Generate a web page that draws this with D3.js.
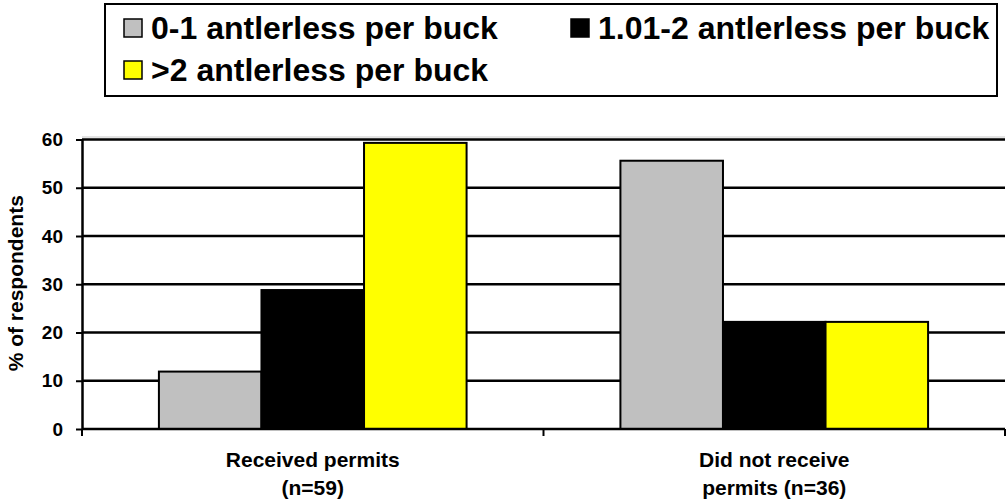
<!DOCTYPE html>
<html>
<head>
<meta charset="utf-8">
<script src="https://cdn.jsdelivr.net/npm/d3@7"></script>
<style>
  html, body { margin: 0; padding: 0; background: #fff; }
  svg { display: block; font-family: "Liberation Sans", Arial, sans-serif; font-weight: bold; }
</style>
</head>
<body>
<svg id="chart" width="1007" height="503"></svg>
<script>
// Survey groups (two-line category labels)
const categories = ["Received permits", "Did not receive permits"];
const categoryLines = [["Received permits", "(n=59)"], ["Did not receive", "permits (n=36)"]];

// Antlerless-per-buck classes
const seriesNames = ["0-1 antlerless per buck", "1.01-2 antlerless per buck", ">2 antlerless per buck"];
const seriesColors = ["#C0C0C0", "#000000", "#FFFF00"];

// % of respondents, one array per class, ordered like categories
const series01 = [11.9, 55.6];
const series101to2 = [28.8, 22.2];
const seriesOver2 = [59.3, 22.2];

const yTicks = [0, 10, 20, 30, 40, 50, 60];

const FONT = "'Liberation Sans', Arial, sans-serif";
const svg = d3.select("#chart");

const plot = { left: 82, right: 1005, top: 139.5, bottom: 429 };

const y = d3.scaleLinear().domain([0, 60]).range([plot.bottom, plot.top]);
const x0 = d3.scaleBand().domain(categories).range([plot.left, plot.right]).padding(0);
const x1 = d3.scaleBand().domain(seriesNames).range([0, x0.bandwidth()])
  .paddingInner(0).paddingOuter(0.75);

const rows = categories.map((c, i) => ({
  category: c,
  values: [series01[i], series101to2[i], seriesOver2[i]]
}));

// Faint plot-area edge just above the top gridline
svg.append("line")
  .attr("x1", plot.left).attr("x2", plot.right)
  .attr("y1", plot.top - 2.5).attr("y2", plot.top - 2.5)
  .attr("stroke", "#c8c8c8").attr("stroke-width", 1);

// Horizontal gridlines
svg.append("g")
  .selectAll("line")
  .data(yTicks.filter(t => t > 0))
  .join("line")
  .attr("x1", plot.left).attr("x2", plot.right)
  .attr("y1", d => y(d)).attr("y2", d => y(d))
  .attr("stroke", "#000").attr("stroke-width", 2.5);

// Bars
svg.append("g")
  .selectAll("g")
  .data(rows)
  .join("g")
  .attr("transform", d => `translate(${x0(d.category)},0)`)
  .selectAll("rect")
  .data(d => d.values.map((v, j) => ({ name: seriesNames[j], value: v, color: seriesColors[j] })))
  .join("rect")
  .attr("x", d => x1(d.name))
  .attr("width", x1.bandwidth())
  .attr("y", d => y(d.value))
  .attr("height", d => y(0) - y(d.value))
  .attr("fill", d => d.color)
  .attr("stroke", "#000")
  .attr("stroke-width", 2);

// Y axis
const yAxis = svg.append("g")
  .attr("transform", `translate(${plot.left},0)`)
  .call(d3.axisLeft(y).tickValues(yTicks).tickSize(6).tickPadding(13).tickSizeOuter(0));
yAxis.select(".domain").attr("stroke", "#000").attr("stroke-width", 2.5);
yAxis.selectAll(".tick line").attr("stroke", "#000").attr("stroke-width", 2);
yAxis.selectAll(".tick text")
  .attr("font-size", 19).attr("font-weight", "bold")
  .attr("font-family", FONT).attr("fill", "#000");

// X axis with ticks at band boundaries
const xAxis = svg.append("g").attr("transform", `translate(0,${plot.bottom})`);
xAxis.append("line")
  .attr("x1", plot.left).attr("x2", plot.right)
  .attr("stroke", "#000").attr("stroke-width", 2.5);
const boundaries = [x0(categories[0]), x0(categories[1]), x0(categories[1]) + x0.bandwidth()];
xAxis.selectAll(".btick")
  .data(boundaries)
  .join("line")
  .attr("class", "btick")
  .attr("x1", d => d).attr("x2", d => d)
  .attr("y1", 0).attr("y2", 7)
  .attr("stroke", "#000").attr("stroke-width", 2);

// Category labels
svg.append("g")
  .selectAll("text")
  .data(categories)
  .join("text")
  .attr("x", d => x0(d) + x0.bandwidth() / 2)
  .attr("y", 467)
  .attr("text-anchor", "middle")
  .attr("font-size", 21)
  .selectAll("tspan")
  .data((d, i) => categoryLines[i])
  .join("tspan")
  .attr("x", function () { return this.parentNode.getAttribute("x"); })
  .attr("dy", (d, i) => i === 0 ? 0 : 28)
  .text(d => d);

// Y axis title
svg.append("text")
  .attr("transform", `translate(23,${(plot.top + plot.bottom) / 2 - 1}) rotate(-90)`)
  .attr("text-anchor", "middle")
  .attr("font-size", 21)
  .text("% of respondents");

// Legend
const legend = svg.append("g");
legend.append("rect")
  .attr("x", 105).attr("y", 4).attr("width", 892).attr("height", 92)
  .attr("fill", "#fff").attr("stroke", "#000").attr("stroke-width", 2);
const legendPos = [[124, 28], [571, 28], [124, 70]];
const items = legend.selectAll("g.item")
  .data(seriesNames)
  .join("g")
  .attr("class", "item")
  .attr("transform", (d, i) => `translate(${legendPos[i][0]},${legendPos[i][1]})`);
items.append("rect")
  .attr("x", 0).attr("y", -9).attr("width", 18).attr("height", 18)
  .attr("fill", (d, i) => seriesColors[i])
  .attr("stroke", "#000").attr("stroke-width", 1.5);
items.append("text")
  .attr("x", 27).attr("y", 11)
  .attr("font-size", 32)
  .text(d => d);
</script>
</body>
</html>
